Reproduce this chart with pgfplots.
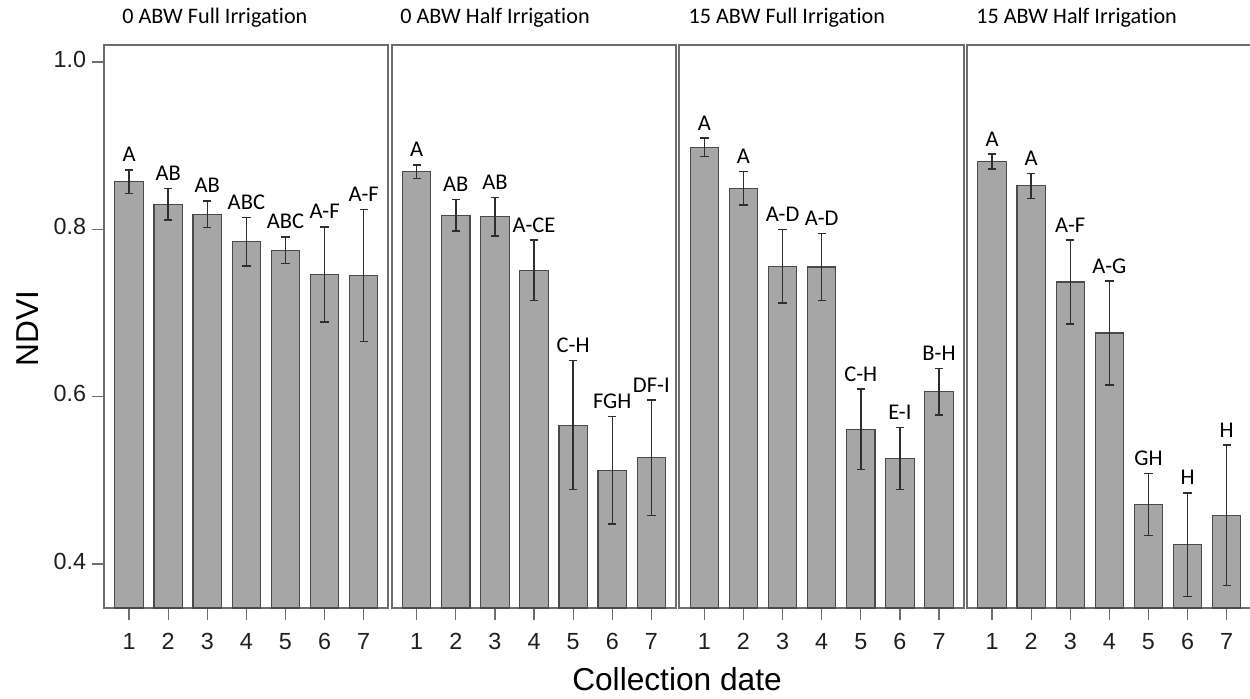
\documentclass[border=0pt]{standalone}
\usepackage{fontspec}
\setmainfont{Carlito}[Ligatures={NoCommon,NoContextual}]
\newfontfamily\arial{Liberation Sans}
\usepackage{pgfplots}
\pgfplotsset{compat=1.18}
\usepackage{pgfplotstable}

\definecolor{barfill}{HTML}{A6A6A6}
\definecolor{baredge}{HTML}{4A4A4A}
\definecolor{framec}{HTML}{6E6E6E}
\definecolor{errc}{HTML}{2E2E2E}

\pgfplotstableread{
x y err lab
1 0.857 0.014 A
2 0.830 0.019 AB
3 0.818 0.016 AB
4 0.785 0.029 ABC
5 0.775 0.016 ABC
6 0.746 0.057 A-F
7 0.745 0.079 A-F
}\panelA
\pgfplotstableread{
x y err lab
1 0.869 0.008 A
2 0.817 0.019 AB
3 0.815 0.023 AB
4 0.751 0.036 A-CE
5 0.566 0.077 C-H
6 0.512 0.064 FGH
7 0.527 0.069 DF-I
}\panelB
\pgfplotstableread{
x y err lab
1 0.898 0.011 A
2 0.849 0.020 A
3 0.756 0.044 A-D
4 0.755 0.040 A-D
5 0.561 0.048 C-H
6 0.526 0.037 E-I
7 0.606 0.028 B-H
}\panelC
\pgfplotstableread{
x y err lab
1 0.881 0.009 A
2 0.852 0.015 A
3 0.737 0.050 A-F
4 0.676 0.062 A-G
5 0.471 0.037 GH
6 0.423 0.062 H
7 0.458 0.084 H
}\panelD

\pgfplotsset{
  panel/.style={
    scale only axis, width=170.6pt, height=337.8pt,
    anchor=south west,
    xmin=0.36, xmax=7.63, ymin=0.3474, ymax=1.0203,
    axis line style={framec, line width=1.1pt},
    xtick={1,...,7},
    ytick={0.4,0.6,0.8,1.0},
    tick align=outside, tick pos=left,
    major tick length=7.2pt,
    tick style={framec, line width=0.7pt},
    /pgf/number format/assume math mode=true,
    typeset ticklabels with strut,
    ticklabel style={font=\arial\fontsize{14}{16}\selectfont, text=black!88},
    xticklabel style={yshift=-3pt},
    yticklabel style={/pgf/number format/.cd, fixed, fixed zerofill, precision=1},
    title style={at={(0,1)}, anchor=base west, font=\fontsize{13.3}{15}\selectfont, yshift=7.2pt, inner sep=0pt},
  },
  barsty/.style={ybar, bar width=0.725, bar shift=0pt, fill=barfill, draw=baredge, line width=0.7pt,
    error bars/.cd, y dir=both, y explicit,
    error bar style={errc, line width=0.85pt},
    error mark options={rotate=90, errc, line width=0.85pt, mark size=2.5pt}},
  labsty/.style={draw=none, mark=none, forget plot, nodes near coords, point meta=explicit symbolic,
    every node near coord/.append style={font=\fontsize{13.5}{15}\selectfont, anchor=base, inner sep=0pt, yshift=4.8pt, text=black}},
}

\begin{document}
\begin{tikzpicture}
\useasboundingbox (-62.4pt,-54pt) rectangle (687.6pt,364.8pt);

\begin{axis}[panel, at={(0pt,0pt)}, title={0 ABW Full Irrigation}, title style={xshift=10.8pt}]
\addplot[barsty] table[x=x, y=y, y error=err] {\panelA};
\addplot[labsty] table[x=x, y expr=\thisrow{y}+\thisrow{err}, meta=lab] {\panelA};
\end{axis}

\begin{axis}[panel, at={(172.6pt,0pt)}, ytick=\empty, title={0 ABW Half Irrigation}, title style={xshift=5pt}]
\addplot[barsty] table[x=x, y=y, y error=err] {\panelB};
\addplot[labsty] table[x=x, y expr=\thisrow{y}+\thisrow{err}, meta=lab] {\panelB};
\end{axis}

\begin{axis}[panel, at={(345.2pt,0pt)}, ytick=\empty, title={15 ABW Full Irrigation}, title style={xshift=5.4pt}]
\addplot[barsty] table[x=x, y=y, y error=err] {\panelC};
\addplot[labsty] table[x=x, y expr=\thisrow{y}+\thisrow{err}, meta=lab] {\panelC};
\end{axis}

\begin{axis}[panel, at={(517.8pt,0pt)}, ytick=\empty, title={15 ABW Half Irrigation}, title style={xshift=5.4pt}]
\addplot[barsty] table[x=x, y=y, y error=err] {\panelD};
\addplot[labsty] table[x=x, y expr=\thisrow{y}+\thisrow{err}, meta=lab] {\panelD};
\end{axis}

\node[anchor=base, font=\arial\fontsize{19}{22}\selectfont] at (343.8pt,-49.2pt) {Collection date};
\node[rotate=90, anchor=center, font=\arial\fontsize{19}{22}\selectfont] at (-45.9pt,167.6pt) {NDVI};
\end{tikzpicture}
\end{document}
